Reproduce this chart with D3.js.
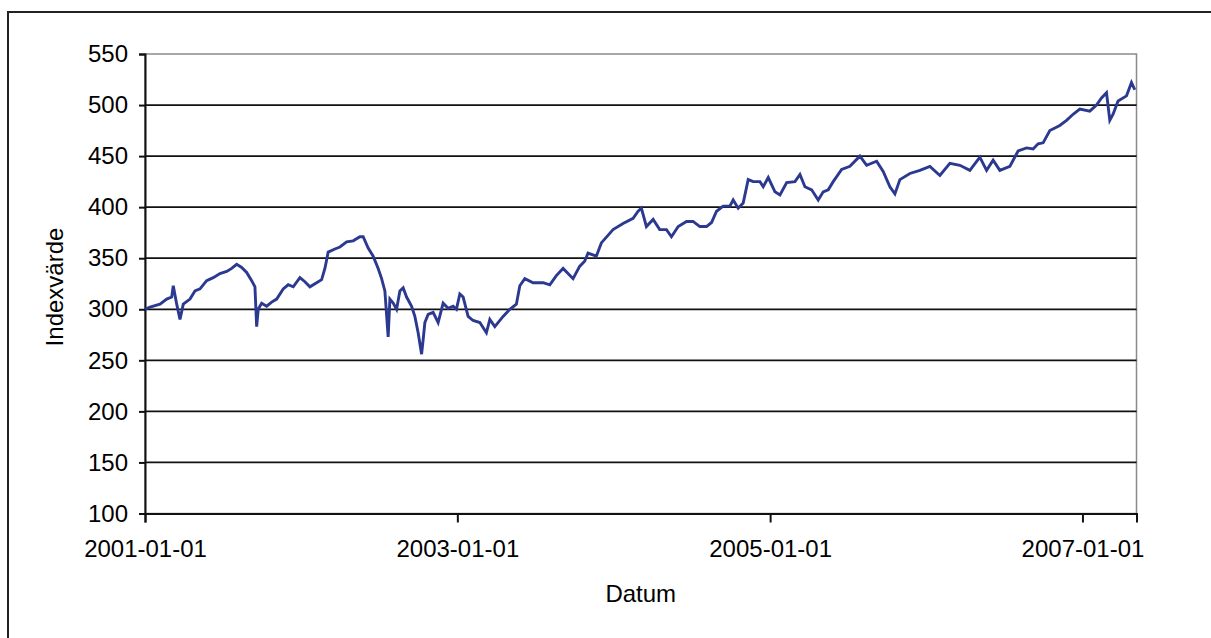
<!DOCTYPE html>
<html>
<head>
<meta charset="utf-8">
<script src="https://cdn.jsdelivr.net/npm/d3@7"></script>
<style>
  html, body { margin: 0; padding: 0; background: #fff; }
  svg { display: block; }
  text { font-family: "Liberation Sans", Arial, sans-serif; fill: #000; }
</style>
</head>
<body>
<svg id="chart" width="1211" height="638"></svg>
<script>
// Dates as decimal years, values = index value
const decimalYears = [
  2001.000, 2001.032, 2001.096, 2001.139, 2001.171, 2001.181, 2001.203, 2001.224, 2001.245, 2001.288,
  2001.320, 2001.352, 2001.395, 2001.437, 2001.480, 2001.523, 2001.555, 2001.587, 2001.619, 2001.651,
  2001.683, 2001.704, 2001.715, 2001.725, 2001.747, 2001.779, 2001.811, 2001.843, 2001.885, 2001.917,
  2001.949, 2001.992, 2002.024, 2002.056, 2002.099, 2002.131, 2002.152, 2002.173, 2002.216, 2002.248,
  2002.291, 2002.333, 2002.376, 2002.397, 2002.429, 2002.461, 2002.493, 2002.515, 2002.536, 2002.557,
  2002.568, 2002.589, 2002.611, 2002.632, 2002.653, 2002.675, 2002.707, 2002.728, 2002.749, 2002.771,
  2002.781, 2002.792, 2002.813, 2002.845, 2002.877, 2002.909, 2002.941, 2002.973, 2002.994, 2003.016,
  2003.037, 2003.069, 2003.101, 2003.144, 2003.186, 2003.208, 2003.240, 2003.293, 2003.336, 2003.378,
  2003.400, 2003.432, 2003.485, 2003.549, 2003.592, 2003.634, 2003.677, 2003.741, 2003.783, 2003.815,
  2003.837, 2003.890, 2003.922, 2003.997, 2004.061, 2004.125, 2004.157, 2004.178, 2004.210, 2004.253,
  2004.295, 2004.338, 2004.370, 2004.413, 2004.466, 2004.508, 2004.551, 2004.594, 2004.626, 2004.658,
  2004.700, 2004.743, 2004.764, 2004.796, 2004.828, 2004.860, 2004.892, 2004.935, 2004.956, 2004.988,
  2005.031, 2005.063, 2005.106, 2005.159, 2005.191, 2005.223, 2005.266, 2005.308, 2005.340, 2005.372,
  2005.404, 2005.458, 2005.511, 2005.575, 2005.618, 2005.682, 2005.724, 2005.767, 2005.799, 2005.831,
  2005.895, 2005.959, 2006.023, 2006.087, 2006.151, 2006.215, 2006.279, 2006.343, 2006.386, 2006.428,
  2006.471, 2006.535, 2006.556, 2006.588, 2006.642, 2006.684, 2006.716, 2006.748, 2006.791, 2006.855,
  2006.898, 2006.940, 2006.983, 2007.047, 2007.090, 2007.122, 2007.154, 2007.175, 2007.196, 2007.228,
  2007.282, 2007.314, 2007.335
];
const indexValues = [
  300, 302, 305, 310, 312, 323, 305, 290, 305, 310,
  318, 320, 328, 331, 335, 337, 340, 344, 341, 336,
  328, 322, 283, 300, 306, 303, 307, 310, 320, 324,
  322, 331, 327, 322, 326, 329, 340, 356, 359, 361,
  366, 367, 371, 371, 360, 352, 340, 330, 318, 273,
  310, 306, 300, 318, 321, 312, 303, 293, 277, 256,
  270, 287, 295, 297, 287, 306, 301, 303, 300, 315,
  312, 293, 289, 287, 277, 290, 283, 293, 300, 305,
  323, 330, 326, 326, 324, 333, 340, 330, 342, 347,
  355, 352, 365, 378, 384, 389, 396, 399, 381, 388,
  378, 378, 371, 381, 386, 386, 381, 381, 385, 396,
  401, 401, 407, 399, 404, 427, 425, 425, 420, 429,
  415, 412, 424, 425, 432, 420, 417, 407, 415, 417,
  425, 437, 440, 450, 441, 445, 435, 420, 413, 427,
  433, 436, 440, 431, 443, 441, 436, 449, 436, 446,
  436, 440, 446, 455, 458, 457, 462, 463, 475, 480,
  485, 491, 496, 494, 500, 507, 512, 485, 491, 504,
  509, 522, 515
];
const yTicks = [100, 150, 200, 250, 300, 350, 400, 450, 500, 550];
const xTickLabels = ["2001-01-01", "2003-01-01", "2005-01-01", "2007-01-01"];
const xDomainEnd = 2007.346;
const yAxisTitle = "Indexvärde";
const xAxisTitle = "Datum";

function decToDate(t) {
  const yr = Math.floor(t);
  const s = new Date(yr, 0, 1), e = new Date(yr + 1, 0, 1);
  return new Date(s.getTime() + (t - yr) * (e - s));
}
const parse = d3.timeParse("%Y-%m-%d");
const data = decimalYears.map((t, i) => ({ date: decToDate(t), value: indexValues[i] }));

const svg = d3.select("#chart");
const pLeft = 145, pRight = 1136.5, pTop = 54, pBottom = 513.5;

// outer frame
svg.append("rect")
  .attr("x", 8).attr("y", 12).attr("width", 1215).attr("height", 640)
  .attr("fill", "none").attr("stroke", "#222").attr("stroke-width", 2);

const x = d3.scaleTime()
  .domain([parse("2001-01-01"), decToDate(xDomainEnd)])
  .range([pLeft, pRight]);
const y = d3.scaleLinear().domain([100, 550]).range([pBottom, pTop]);

// plot area border (grey)
svg.append("rect")
  .attr("x", pLeft).attr("y", pTop).attr("width", pRight - pLeft).attr("height", pBottom - pTop)
  .attr("fill", "#fff").attr("stroke", "#8a8a8a").attr("stroke-width", 1.5);

// gridlines
svg.append("g").selectAll("line")
  .data(yTicks.filter(v => v !== 550 && v !== 100))
  .join("line")
  .attr("x1", pLeft).attr("x2", pRight)
  .attr("y1", d => y(d)).attr("y2", d => y(d))
  .attr("stroke", "#111").attr("stroke-width", 1.8);

// y axis
const yAxis = svg.append("g")
  .attr("transform", `translate(${pLeft},0)`)
  .call(d3.axisLeft(y).tickValues(yTicks).tickSize(6).tickPadding(11).tickFormat(d3.format("d")));
yAxis.select(".domain").attr("stroke", "#111").attr("stroke-width", 2);
yAxis.selectAll(".tick line").attr("stroke", "#111").attr("stroke-width", 2);
yAxis.selectAll(".tick text")
  .style("font-family", "'Liberation Sans', Arial, sans-serif")
  .style("font-size", "24px").attr("fill", "#000");

// x axis
const xAxis = svg.append("g")
  .attr("transform", `translate(0,${pBottom})`)
  .call(d3.axisBottom(x).tickValues(xTickLabels.map(parse)).tickSize(9).tickPadding(17)
    .tickFormat(d3.timeFormat("%Y-%m-%d")));
xAxis.select(".domain").attr("stroke", "#111").attr("stroke-width", 2);
xAxis.selectAll(".tick line").attr("stroke", "#111").attr("stroke-width", 2);
xAxis.selectAll(".tick text")
  .style("font-family", "'Liberation Sans', Arial, sans-serif")
  .style("font-size", "24px").attr("fill", "#000");

// series line
const line = d3.line().x(d => x(d.date)).y(d => y(d.value));
svg.append("path")
  .datum(data)
  .attr("d", line)
  .attr("fill", "none")
  .attr("stroke", "#2b3990")
  .attr("stroke-width", 2.9)
  .attr("stroke-linejoin", "miter");

// axis titles
svg.append("text")
  .attr("x", (pLeft + pRight) / 2).attr("y", 602)
  .attr("text-anchor", "middle")
  .style("font-size", "24px")
  .text(xAxisTitle);

svg.append("text")
  .attr("transform", `translate(63,${287}) rotate(-90)`)
  .attr("text-anchor", "middle")
  .style("font-size", "24px")
  .text(yAxisTitle);
</script>
</body>
</html>
